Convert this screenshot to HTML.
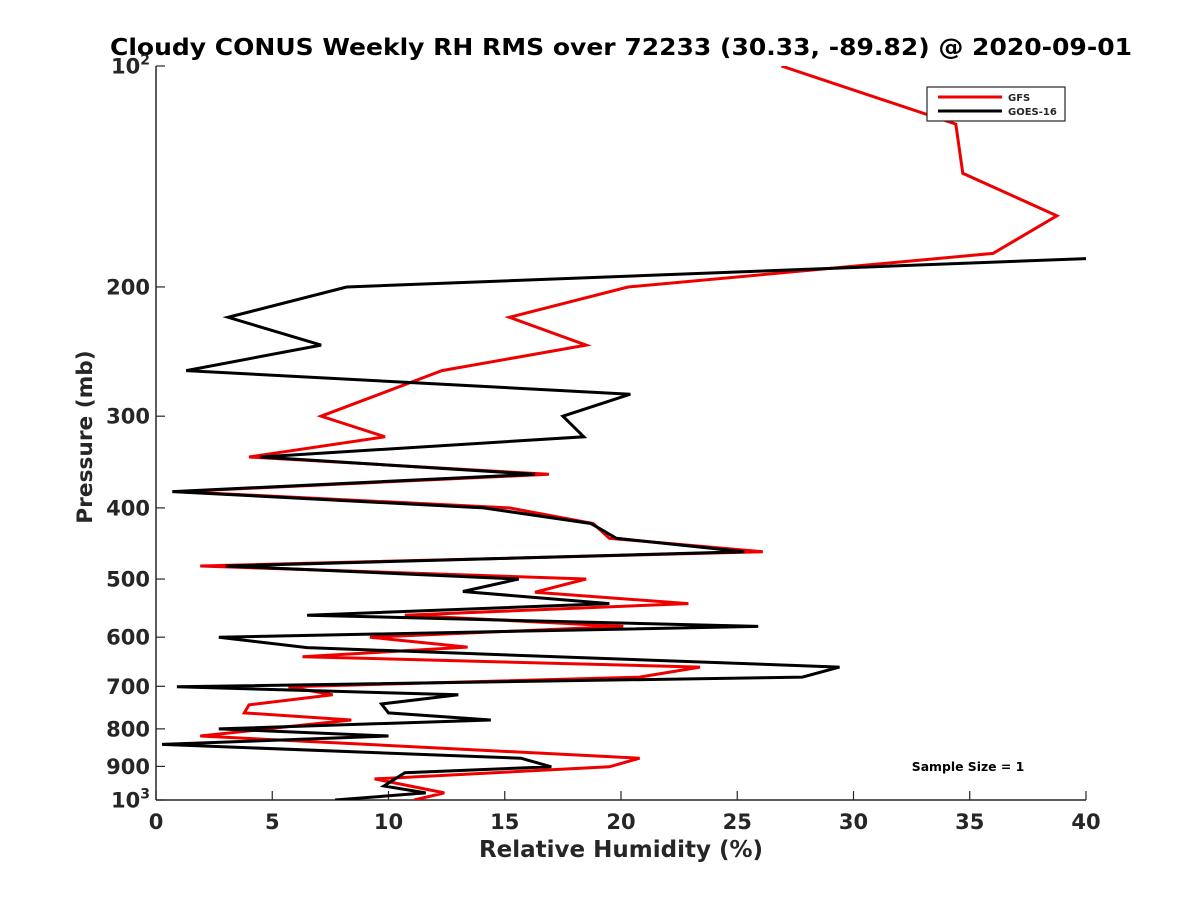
<!DOCTYPE html>
<html><head><meta charset="utf-8"><style>
body{margin:0;background:#fff;}
svg text{font-family:"DejaVu Sans","Liberation Sans",sans-serif;font-weight:bold;fill:#262626;}
</style></head><body>
<svg id="chart" width="1200" height="900" xmlns="http://www.w3.org/2000/svg">
<rect width="1200" height="900" fill="#fff"/>
<text x="621" y="55" text-anchor="middle" font-size="23" textLength="1022" lengthAdjust="spacingAndGlyphs" style="fill:#000">Cloudy CONUS Weekly RH RMS over 72233 (30.33, -89.82) @ 2020-09-01</text>
<g id="axes"></g>
<defs><clipPath id="clip"><rect x="156" y="66" width="930" height="734"/></clipPath></defs>
<g id="series" clip-path="url(#clip)"></g>
<g>
<rect x="927" y="87" width="138" height="34" fill="#fff" stroke="#262626" stroke-width="1.2"/>
<line x1="938" y1="97" x2="1002" y2="97" stroke="#e00" stroke-width="3"/>
<text x="1008" y="101" font-size="10">GFS</text>
<line x1="938" y1="111" x2="1002" y2="111" stroke="#000" stroke-width="3"/>
<text x="1008" y="115" font-size="10">GOES-16</text>
</g>
<text x="968" y="771" text-anchor="middle" font-size="12.4" style="fill:#000">Sample Size = 1</text>
<text x="621" y="857" text-anchor="middle" font-size="23">Relative Humidity (%)</text>
<text transform="translate(92,437) rotate(-90)" text-anchor="middle" font-size="21.7">Pressure (mb)</text>
</svg>
<script>
const xTicks=[0,5,10,15,20,25,30,35,40];
const yTicks=[100,200,300,400,500,600,700,800,900,1000];
const gfsRH=[26.9,34.4,34.7,38.75,36.0,20.3,15.2,18.5,12.3,7.1,9.85,4.0,16.9,1.0,15.2,18.8,19.5,26.1,1.9,18.5,16.3,22.9,10.7,20.1,9.2,13.4,6.3,23.4,20.8,5.7,7.6,4.0,3.8,8.4,1.9,20.8,19.5,9.4,12.4,11.1];
const gfsP=[100,120,140,160,180,200,220,240,260,300,320,341,360,380,400,420,440,459,480,500,521,540,560,580,600,619,638,659,680,701,719,742,761,778,818,877,901,936,978,1000];
const goesRH=[40,8.2,3.1,7.1,1.3,20.4,17.5,18.4,4.5,16.3,0.7,14.1,18.7,19.8,25.3,3.0,15.6,13.2,19.5,6.5,25.9,2.7,6.5,29.4,27.8,0.9,13.0,9.7,10.0,14.4,2.7,10.0,0.26,15.7,17.0,10.7,9.8,11.6,7.7];
const goesP=[183,200,220,240,260,280,300,320,341,360,380,400,420,440,459,480,500,520,540,560,580,600,620,659,680,701,719,740,761,778,800,818,840,877,901,918,957,978,1000];
const X=v=>156+v*(930/40);
const Y=p=>66+Math.log10(p/100)*734;
const NS="http://www.w3.org/2000/svg";
const ax=document.getElementById('axes');
function mk(t,a,parent){const e=document.createElementNS(NS,t);for(const k in a)e.setAttribute(k,a[k]);parent.appendChild(e);return e;}
const xl=mk('line',{x1:156,y1:800,x2:1086,y2:800,stroke:'#262626','stroke-width':1.5},ax);


const yl=mk('line',{x1:156,y1:66,x2:156,y2:800,stroke:'#262626','stroke-width':1.5},ax);


xTicks.forEach(v=>{
  mk('line',{x1:X(v),y1:800,x2:X(v),y2:791,stroke:'#262626','stroke-width':1.2},ax);
  const t=mk('text',{x:X(v),y:829,'text-anchor':'middle','font-size':21},ax);
  t.textContent=v;
  
  
});
yTicks.forEach(p=>{
  mk('line',{x1:156,y1:Y(p),x2:165,y2:Y(p),stroke:'#262626','stroke-width':1.2},ax);
  const t=mk('text',{x:150,y:Y(p)+7.5,'text-anchor':'end','font-size':21},ax);
  if(p===100){t.innerHTML='10<tspan dy="-9" font-size="14">2</tspan>';}
  else if(p===1000){t.innerHTML='10<tspan dy="-9" font-size="14">3</tspan>';}
  else t.textContent=p;
  
  
});
const sg=document.getElementById('series');
function line(rh,p,color,name){
  const pts=rh.map((v,i)=>X(v).toFixed(1)+','+Y(p[i]).toFixed(1)).join(' ');
  const pl=mk('polyline',{points:pts,fill:'none',stroke:color,'stroke-width':3,'stroke-linejoin':'miter'},sg);
  
  
}
line(gfsRH,gfsP,'#e00','gfs-line');
line(goesRH,goesP,'#000','goes16-line');
</script>
</body></html>
